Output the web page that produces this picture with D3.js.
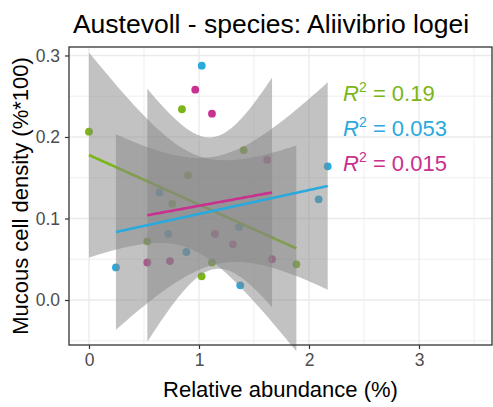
<!DOCTYPE html>
<html><head><meta charset="utf-8">
<script src="https://cdn.jsdelivr.net/npm/d3@7"></script>
<style>body{margin:0;background:#fff}svg{display:block;font-family:"Liberation Sans",Arial,sans-serif}</style>
</head><body>
<svg id="c" width="493" height="407"></svg>
<script>
// Data
const greenX = [0, 0.845, 1.406, 0.9, 0.757, 0.53, 1.024, 1.118, 1.885];
const greenY = [0.2065, 0.234, 0.184, 0.153, 0.118, 0.072, 0.029, 0.046, 0.0438];
const blueX = [1.025, 0.64, 0.721, 1.364, 0.885, 0.245, 1.375, 2.088, 2.17];
const blueY = [0.2875, 0.132, 0.081, 0.0896, 0.0589, 0.040, 0.018, 0.1235, 0.164];
const magentaX = [0.966, 1.118, 1.62, 1.145, 1.309, 0.53, 0.736, 1.664];
const magentaY = [0.258, 0.2286, 0.1718, 0.081, 0.0683, 0.046, 0.0478, 0.050];
const seriesColors = ["#7cb518", "#2aa9dd", "#c9308f"];
const r2Labels = ["0.19", "0.053", "0.015"];
const xTicks = [0, 1, 2, 3];
const yTicks = [0.0, 0.1, 0.2, 0.3];
const tQuant = {6: 2.4469, 7: 2.3646};

const series = [
  {x: greenX, y: greenY, color: seriesColors[0], r2: r2Labels[0]},
  {x: blueX, y: blueY, color: seriesColors[1], r2: r2Labels[1]},
  {x: magentaX, y: magentaY, color: seriesColors[2], r2: r2Labels[2]}
];

const svg = d3.select("#c");
const L = 69, R = 492, T = 47, B = 345;
const x = d3.scaleLinear().domain([-0.1818, 3.6636]).range([L, R]);
const y = d3.scaleLinear().domain([-0.0552, 0.3104]).range([B, T]);

// grid
const g = svg.append("g");
const xMinor = d3.range(-0.5, 4, 0.5).filter(v => x(v) > L && x(v) < R && v % 1 !== 0);
const yMinor = d3.range(-0.05, 0.35, 0.1).filter(v => y(v) > T && y(v) < B);
xMinor.forEach(v => g.append("line").attr("x1", x(v)).attr("x2", x(v)).attr("y1", T).attr("y2", B).attr("stroke", "#ebebeb").attr("stroke-width", 0.8));
yMinor.forEach(v => g.append("line").attr("x1", L).attr("x2", R).attr("y1", y(v)).attr("y2", y(v)).attr("stroke", "#ebebeb").attr("stroke-width", 0.8));
xTicks.forEach(v => g.append("line").attr("x1", x(v)).attr("x2", x(v)).attr("y1", T).attr("y2", B).attr("stroke", "#ebebeb").attr("stroke-width", 1.4));
yTicks.forEach(v => g.append("line").attr("x1", L).attr("x2", R).attr("y1", y(v)).attr("y2", y(v)).attr("stroke", "#ebebeb").attr("stroke-width", 1.4));

// points
series.forEach(s => {
  svg.append("g").selectAll("circle").data(s.x.map((v, i) => [v, s.y[i]])).join("circle")
    .attr("cx", d => x(d[0])).attr("cy", d => y(d[1])).attr("r", 3.9).attr("fill", s.color);
});

// regression fits
function fit(s) {
  const n = s.x.length, mx = d3.mean(s.x), my = d3.mean(s.y);
  let sxx = 0, sxy = 0;
  s.x.forEach((v, i) => { sxx += (v - mx) ** 2; sxy += (v - mx) * (s.y[i] - my); });
  const b = sxy / sxx, a = my - b * mx;
  let sse = 0;
  s.x.forEach((v, i) => { sse += (s.y[i] - a - b * v) ** 2; });
  const sd = Math.sqrt(sse / (n - 2)), t = tQuant[n - 2];
  const [x0, x1] = d3.extent(s.x);
  const grid = d3.range(80).map(k => x0 + (x1 - x0) * k / 79);
  return grid.map(v => {
    const yh = a + b * v;
    const se = sd * Math.sqrt(1 / n + (v - mx) ** 2 / sxx);
    return {x: v, y: yh, lo: yh - t * se, hi: yh + t * se};
  });
}
const area = d3.area().x(d => x(d.x)).y0(d => y(d.lo)).y1(d => y(d.hi));
const line = d3.line().x(d => x(d.x)).y(d => y(d.y));
const fits = series.map(fit);
function drawRibbon(i) {
  svg.append("path").attr("d", area(fits[i])).attr("fill", "#868686").attr("opacity", 0.5);
}
function drawLine(i) {
  svg.append("path").attr("d", line(fits[i])).attr("fill", "none").attr("stroke", series[i].color).attr("stroke-width", 2.6);
}
drawRibbon(0); drawLine(0);
drawRibbon(1); drawRibbon(2);
drawLine(1); drawLine(2);

// R2 labels
series.forEach((s, i) => {
  const t = svg.append("text").attr("x", x(2.31)).attr("y", 101 + i * 35)
    .attr("fill", s.color).attr("font-size", 22);
  t.append("tspan").attr("font-style", "italic").text("R");
  t.append("tspan").attr("font-size", 14).attr("dy", -9).text("2");
  t.append("tspan").attr("dy", 9).text(" = " + s.r2);
});

// panel border
svg.append("rect").attr("x", L).attr("y", T).attr("width", R - L).attr("height", B - T)
  .attr("fill", "none").attr("stroke", "#333").attr("stroke-width", 1.3);

// axes
const xa = svg.append("g").attr("transform", `translate(0,${B})`)
  .call(d3.axisBottom(x).tickValues(xTicks).tickFormat(d3.format("d")).tickSize(4).tickPadding(5));
const ya = svg.append("g").attr("transform", `translate(${L},0)`)
  .call(d3.axisLeft(y).tickValues(yTicks).tickFormat(d3.format(".1f")).tickSize(4).tickPadding(5));
[xa, ya].forEach(a => {
  a.select(".domain").remove();
  a.selectAll(".tick line").attr("stroke", "#333").attr("stroke-width", 1.2);
  a.selectAll(".tick text").attr("fill", "#4d4d4d").attr("font-size", 17.5).attr("font-family", "Liberation Sans, Arial, sans-serif");
});

// titles
svg.append("text").attr("x", 271).attr("y", 33).attr("text-anchor", "middle").attr("font-size", 26.5).attr("fill", "#000")
  .text("Austevoll - species: Aliivibrio logei");
svg.append("text").attr("x", (L + R) / 2).attr("y", 397).attr("text-anchor", "middle").attr("font-size", 22).attr("fill", "#000")
  .text("Relative abundance (%)");
svg.append("text").attr("transform", `translate(28,${(T + B) / 2}) rotate(-90)`).attr("text-anchor", "middle").attr("font-size", 22).attr("fill", "#000")
  .text("Mucous cell density (%*100)");
</script>
</body></html>
